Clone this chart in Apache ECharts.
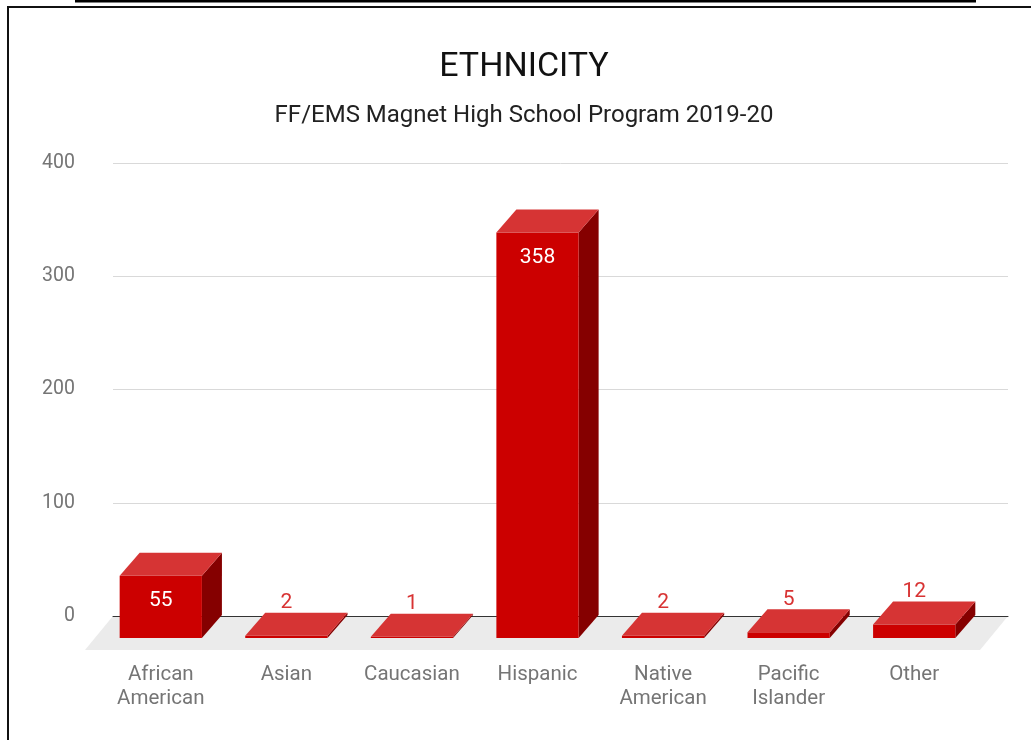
<!DOCTYPE html>
<html><head><meta charset="utf-8">
<script src="https://cdn.jsdelivr.net/npm/echarts@6/dist/echarts.min.js"></script>
<style>html,body{margin:0;padding:0;background:#fff}#c{width:1031px;height:740px}</style>
</head><body><div id="c"></div>
<script>
const categories = ['African\nAmerican', 'Asian', 'Caucasian', 'Hispanic', 'Native\nAmerican', 'Pacific\nIslander', 'Other'];
const values = [55, 2, 1, 358, 2, 5, 12];
const yTicks = [0, 100, 200, 300, 400];
const titleText = 'ETHNICITY';
const subtitleText = 'FF/EMS Magnet High School Program 2019-20';

const FONT = 'Roboto';
const DX = 20, DY = -23;

function renderBar(params, api) {
  const i = api.value(0), v = api.value(1);
  const base = api.coord([i, 0]);
  const top = api.coord([i, v]);
  const bw = api.size([1, 0])[0] * 0.655;
  const x0 = base[0] - bw / 2, x1 = base[0] + bw / 2;
  const yb = base[1], yt = top[1];
  const inside = (yb - yt) > 40;
  return {
    type: 'group',
    children: [
      { type: 'polygon', shape: { points: [[x1, yb], [x1, yt], [x1 + DX, yt + DY], [x1 + DX, yb + DY]] }, style: { fill: '#850000' } },
      { type: 'rect', shape: { x: x0, y: yt, width: bw, height: yb - yt }, style: { fill: '#cc0000' } },
      { type: 'polygon', shape: { points: [[x0, yt], [x1, yt], [x1 + DX, yt + DY], [x0 + DX, yt + DY]] }, style: { fill: '#d63434' } },
      { type: 'text', style: { text: String(v), x: base[0], y: inside ? yt + 25 : yt + DY - 10, align: 'center', verticalAlign: 'middle', fill: inside ? '#ffffff' : '#d83333', font: '21px ' + FONT } }
    ]
  };
}

function renderFloor(params, api) {
  const c = params.coordSys;
  const bx0 = c.x, bx1 = c.x + c.width, by = c.y + c.height;
  return { type: 'polygon', shape: { points: [[bx0, by], [bx1, by], [bx1 - 28, by + 34], [bx0 - 28, by + 34]] }, style: { fill: '#ebebeb' } };
}

const chart = echarts.init(document.getElementById('c'), null, { renderer: 'canvas' });
chart.setOption({
  backgroundColor: '#ffffff',
  animation: false,
  title: [
    { text: titleText, left: 519, top: 42, textAlign: 'center', textStyle: { fontFamily: FONT, fontSize: 34, fontWeight: 'normal', color: '#111111', lineHeight: 40 } },
    { text: subtitleText, left: 519, top: 97, textAlign: 'center', textStyle: { fontFamily: FONT, fontSize: 24, fontWeight: 'normal', color: '#222222', lineHeight: 28 } }
  ],
  graphic: [
    { type: 'line', shape: { x1: 75, y1: 1, x2: 976, y2: 1 }, style: { stroke: '#000', lineWidth: 3 } },
    { type: 'line', shape: { x1: 7, y1: 7, x2: 1031, y2: 7 }, style: { stroke: '#111', lineWidth: 2 } },
    { type: 'line', shape: { x1: 8, y1: 6, x2: 8, y2: 740 }, style: { stroke: '#111', lineWidth: 2 } }
  ],
  grid: [
    { left: 113, right: 23, top: 163, bottom: 124 },
    { left: 98, right: 54, top: 185, bottom: 102 }
  ],
  xAxis: [
    { type: 'category', gridIndex: 0, data: categories, z: 2, axisLine: { show: true, lineStyle: { color: '#333333', width: 1 } }, axisTick: { show: false }, axisLabel: { show: false }, splitLine: { show: false } },
    { type: 'category', gridIndex: 1, data: categories, axisLine: { show: false }, axisTick: { show: false },
      axisLabel: { color: '#757575', fontFamily: FONT, fontSize: 20.5, lineHeight: 24, margin: 25, interval: 0 } }
  ],
  yAxis: [
    { type: 'value', gridIndex: 0, min: yTicks[0], max: yTicks[yTicks.length - 1], interval: yTicks[1] - yTicks[0],
      axisLine: { show: false }, axisTick: { show: false },
      axisLabel: { color: '#757575', fontFamily: FONT, fontSize: 19.5, margin: 38 },
      splitLine: { show: true, lineStyle: { color: '#d9d9d9', width: 1 } } },
    { type: 'value', gridIndex: 1, min: yTicks[0], max: yTicks[yTicks.length - 1], show: false, splitLine: { show: false } }
  ],
  series: [
    { type: 'custom', xAxisIndex: 0, yAxisIndex: 0, z: 1, silent: true, renderItem: renderFloor, data: [[0, 0]] },
    { type: 'custom', xAxisIndex: 1, yAxisIndex: 1, z: 3, renderItem: renderBar,
      data: values.map((v, i) => [i, v]) }
  ]
});
</script></body></html>
